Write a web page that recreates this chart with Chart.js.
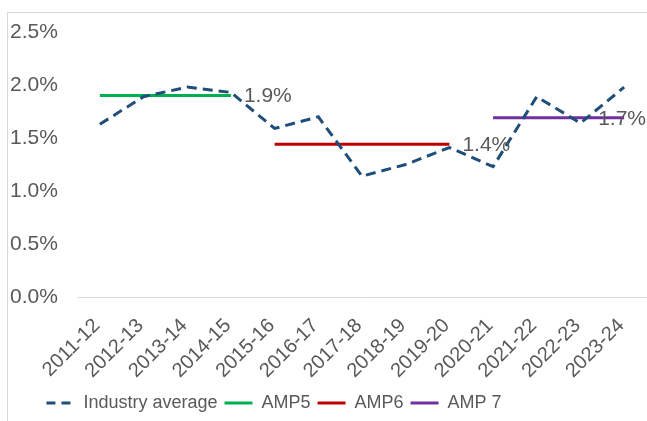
<!DOCTYPE html>
<html>
<head>
<meta charset="utf-8">
<script src="https://cdn.jsdelivr.net/npm/chart.js@4/dist/chart.umd.min.js"></script>
<style>
  html, body { margin: 0; padding: 0; background: #fff; }
  #wrap { position: relative; width: 647px; height: 421px; overflow: hidden; }
  #frame {
    position: absolute; left: 7px; top: 12px; right: 0; bottom: 0;
    border-top: 1px solid #d9d9d9; border-left: 1px solid #d9d9d9;
  }
  #chart { position: absolute; left: 0; top: 0; }
</style>
</head>
<body>
<div id="wrap">
  <div id="frame"></div>
  <canvas id="chart" width="647" height="421"></canvas>
</div>
<script>
// Financial years on the category axis
const years = ['2011-12', '2012-13', '2013-14', '2014-15', '2015-16', '2016-17', '2017-18',
  '2018-19', '2019-20', '2020-21', '2021-22', '2022-23', '2023-24'];

// Yearly industry average (%)
const industryAverage = [1.63, 1.89, 1.98, 1.93, 1.59, 1.70, 1.14, 1.25, 1.41, 1.23, 1.89, 1.64, 1.98];

// Period averages, one flat line per AMP period (%)
const amp5 = [1.9, 1.9, 1.9, 1.9, null, null, null, null, null, null, null, null, null];
const amp6 = [null, null, null, null, 1.44, 1.44, 1.44, 1.44, 1.44, null, null, null, null];
const amp7 = [null, null, null, null, null, null, null, null, null, 1.69, 1.69, 1.69, 1.69];

// Value axis ticks
const yTicks = [0, 0.5, 1.0, 1.5, 2.0, 2.5];

const FONT = "'Liberation Sans', Arial, sans-serif";
const TEXT = '#595959';
const GRID = '#d9d9d9';

// Writes the period value next to the last point of each AMP line
const endLabels = {
  id: 'endLabels',
  afterDatasetsDraw(chart) {
    const ctx = chart.ctx;
    ctx.save();
    ctx.font = '21px ' + FONT;
    ctx.fillStyle = TEXT;
    ctx.textBaseline = 'middle';
    chart.data.datasets.forEach((ds, i) => {
      if (!ds.endLabel) return;
      const meta = chart.getDatasetMeta(i);
      let last = -1;
      ds.data.forEach((v, j) => { if (v !== null) last = j; });
      const pt = meta.data[last];
      const text = ds.data[last].toFixed(1) + '%';
      const w = ctx.measureText(text).width;
      const x = Math.min(pt.x + 13, chart.width - w - 1);
      ctx.fillText(text, x, pt.y + 1);
    });
    ctx.restore();
  }
};

// Legend sits a little left of the canvas centre
const legendShift = {
  id: 'legendShift',
  afterLayout(chart) {
    if (!chart.legend) return;
    chart.legend.left -= 54;
    chart.legend.right -= 54;
  }
};

const lineSet = (label, data, color, extra) => Object.assign({
  label: label,
  data: data,
  borderColor: color,
  backgroundColor: color,
  borderWidth: 3,
  pointRadius: 0,
  pointHoverRadius: 0,
  fill: false,
  tension: 0,
  spanGaps: false
}, extra || {});

new Chart(document.getElementById('chart'), {
  type: 'line',
  data: {
    labels: years,
    datasets: [
      lineSet('Industry average', industryAverage, '#1f4e79', { borderDash: [10, 6], borderCapStyle: 'butt' }),
      lineSet('AMP5', amp5, '#00b050', { endLabel: true }),
      lineSet('AMP6', amp6, '#c00000', { endLabel: true }),
      lineSet('AMP 7', amp7, '#7030a0', { endLabel: true })
    ]
  },
  options: {
    responsive: false,
    animation: false,
    events: [],
    layout: { padding: { left: 10, right: 1, top: 32, bottom: -1 } },
    plugins: {
      tooltip: { enabled: false },
      legend: {
        position: 'bottom',
        labels: {
          color: TEXT,
          font: { family: FONT, size: 18 },
          usePointStyle: true,
          pointStyle: 'line',
          pointStyleWidth: 28,
          padding: 7,
          // keep the dash pattern of each series in its legend sample
          generateLabels(chart) {
            const items = Chart.defaults.plugins.legend.labels.generateLabels(chart);
            items.forEach(it => {
              const ds = chart.data.datasets[it.datasetIndex];
              it.lineDash = ds.borderDash ? [9, 6] : [];
              it.lineWidth = 3;
            });
            return items;
          }
        }
      }
    },
    scales: {
      x: {
        offset: true,
        afterFit(scale) {
          // rotated labels may hang outside; the plot keeps its full width
          scale.height = 90;
          scale.paddingLeft = 0;
          scale.paddingRight = 0;
        },
        grid: { display: false, drawTicks: false },
        border: { display: true, color: GRID, width: 1 },
        ticks: {
          color: TEXT,
          font: { family: FONT, size: 20 },
          maxRotation: 45,
          minRotation: 45,
          autoSkip: false,
          padding: 17,
          labelOffset: -3
        }
      },
      y: {
        min: 0,
        max: 2.5,
        afterBuildTicks(scale) {
          scale.ticks = yTicks.map(v => ({ value: v }));
        },
        afterFit(scale) {
          scale.width = 68;
        },
        grid: { display: false, drawTicks: false },
        border: { display: false },
        ticks: {
          color: TEXT,
          crossAlign: 'far',
          font: { family: FONT, size: 21 },
          callback: v => v.toFixed(1) + '%'
        }
      }
    }
  },
  plugins: [endLabels, legendShift]
});
</script>
</body>
</html>
